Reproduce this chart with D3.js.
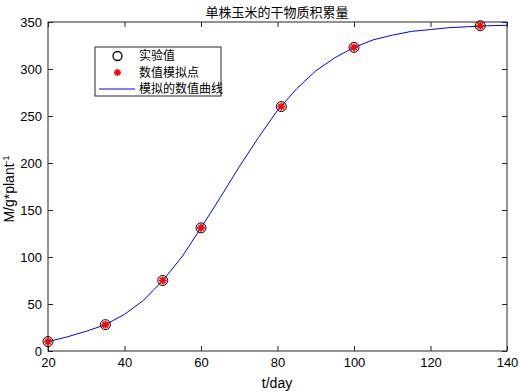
<!DOCTYPE html>
<html><head><meta charset="utf-8">
<script src="https://cdn.jsdelivr.net/npm/d3@7"></script>
<style>body{margin:0;background:#fff;}svg{display:block;}</style>
</head><body>
<svg id="c" width="519" height="391"></svg>
<script>
const title = "单株玉米的干物质积累量";
const xLabel = "t/day";
const legendLabels = ["实验值", "数值模拟点", "模拟的数值曲线"];
const xTicks = [20, 40, 60, 80, 100, 120, 140];
const yTicks = [0, 50, 100, 150, 200, 250, 300, 350];
const expDays = [20, 35, 50, 60, 81, 100, 133];
const expValues = [10, 28, 75, 131, 260, 323, 346];
const curveDays = [20,25,30,35,40,45,50,55,60,65,70,75,80,85,90,95,100,105,110,115,120,125,130,135,140];
const curveValues = [10,15,21,28,39,54,75,100,131,163,196,227,256,279,298,312,323,331,336,340,342,344,345,346,346.5];

const svg = d3.select("#c");
const L = 48, R = 507, T = 22, B = 351;
const x = d3.scaleLinear().domain([20, 140]).range([L, R]);
const y = d3.scaleLinear().domain([0, 350]).range([B, T]);
const axisColor = "#262626";
const font = "Arial, 'Liberation Sans', sans-serif";

// box
svg.append("rect").attr("x", L).attr("y", T).attr("width", R - L).attr("height", B - T)
  .attr("fill", "#fff").attr("stroke", axisColor).attr("stroke-width", 1);

// axes
const xb = svg.append("g").attr("transform", `translate(0,${B})`)
  .call(d3.axisBottom(x).tickValues(xTicks).tickSize(-5).tickPadding(7));
const xt = svg.append("g").attr("transform", `translate(0,${T})`)
  .call(d3.axisTop(x).tickValues(xTicks).tickSize(-5).tickFormat(""));
const yl = svg.append("g").attr("transform", `translate(${L},0)`)
  .call(d3.axisLeft(y).tickValues(yTicks).tickSize(-5).tickPadding(6));
const yr = svg.append("g").attr("transform", `translate(${R},0)`)
  .call(d3.axisRight(y).tickValues(yTicks).tickSize(-5).tickFormat(""));
[xb, xt, yl, yr].forEach(g => {
  g.select(".domain").remove();
  g.selectAll("line").attr("stroke", axisColor);
  g.selectAll("text").attr("fill", "#000").style("font-family", font).style("font-size", "13px");
});

// curve
const line = d3.line().x((d, i) => x(curveDays[i])).y(d => y(d));
svg.append("path").datum(curveValues).attr("d", line)
  .attr("fill", "none").attr("stroke", "#0000ff").attr("stroke-width", 1);

function star(g, cx, cy, r) {
  const angles = [0, 45, 90, 135];
  angles.forEach(a => {
    const rad = a * Math.PI / 180;
    g.append("line")
      .attr("x1", cx - r * Math.cos(rad)).attr("y1", cy - r * Math.sin(rad))
      .attr("x2", cx + r * Math.cos(rad)).attr("y2", cy + r * Math.sin(rad))
      .attr("stroke", "#ff0000").attr("stroke-width", 1.8);
  });
}

const pts = svg.append("g");
expDays.forEach((d, i) => {
  pts.append("circle").attr("cx", x(d)).attr("cy", y(expValues[i])).attr("r", 5)
    .attr("fill", "none").attr("stroke", "#000").attr("stroke-width", 1);
  star(pts, x(d), y(expValues[i]), 4);
});

// legend
const lg = svg.append("g");
lg.append("rect").attr("x", 95).attr("y", 47).attr("width", 126).attr("height", 49)
  .attr("fill", "#fff").attr("stroke", axisColor).attr("stroke-width", 1);
const rows = [56, 72.5, 89];
lg.append("circle").attr("cx", 117.5).attr("cy", rows[0]).attr("r", 4.5)
  .attr("fill", "none").attr("stroke", "#000").attr("stroke-width", 1.3);
star(lg, 117.5, rows[1], 3.5);
lg.append("line").attr("x1", 99).attr("x2", 135).attr("y1", rows[2]).attr("y2", rows[2])
  .attr("stroke", "#0000ff").attr("stroke-width", 1);
legendLabels.forEach((t, i) => {
  lg.append("text").attr("x", 139).attr("y", rows[i]).attr("dy", "0.35em")
    .style("font-family", "'Noto Sans CJK SC'").style("font-size", "12px").attr("fill", "#000").text(t);
});

// labels
svg.append("text").attr("x", 277).attr("y", 17).attr("text-anchor", "middle")
  .style("font-family", "'Noto Sans CJK SC'").style("font-size", "13px").attr("fill", "#000").text(title);
svg.append("text").attr("x", 277).attr("y", 388).attr("text-anchor", "middle")
  .style("font-family", font).style("font-size", "14px").attr("fill", "#000").text(xLabel);
const yt = svg.append("text").attr("transform", "translate(14,189) rotate(-90)").attr("text-anchor", "middle")
  .style("font-family", font).style("font-size", "14px").attr("fill", "#000");
yt.append("tspan").text("M/g*plant");
yt.append("tspan").attr("dy", -5).style("font-size", "9px").text("-1");
</script>
</body></html>
